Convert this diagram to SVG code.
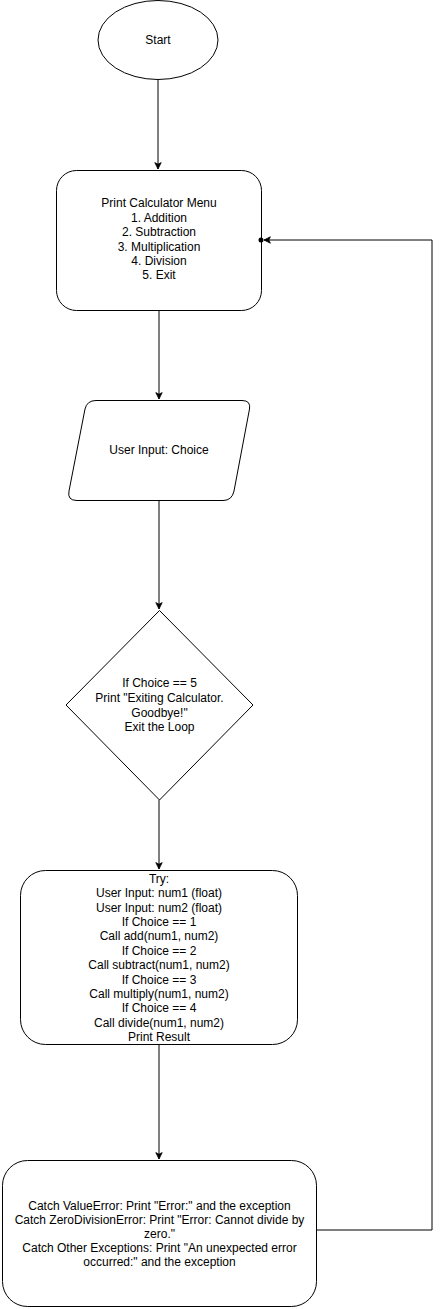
<svg xmlns="http://www.w3.org/2000/svg" width="442" height="1309" viewBox="0 0 442 1309">
<style>
.s{fill:#fff;stroke:#000;stroke-width:1}
.t{font-family:"Liberation Sans",Arial,sans-serif;font-size:12px;fill:#000;text-anchor:middle}
.c{fill:none;stroke:#000;stroke-width:1}
</style>
<defs>
<marker id="ah" viewBox="0 0 10 10" refX="9" refY="5" markerWidth="8" markerHeight="8" markerUnits="userSpaceOnUse" orient="auto">
<path d="M1,1 L9,5 L1,9 L3,5 Z" fill="#000" stroke="#000" stroke-width="1"/>
</marker>
</defs>
<rect width="442" height="1309" fill="#fff"/>
<g id="start">
<ellipse class="s" cx="158" cy="40" rx="60" ry="39.5"/>
<text class="t" x="158" y="44">Start</text>
</g>
<g id="menu">
<rect class="s" x="56.5" y="170.5" width="205" height="140" rx="20" ry="20"/>
<text class="t" x="159" y="207">Print Calculator Menu</text>
<text class="t" x="159" y="222">1. Addition</text>
<text class="t" x="159" y="236">2. Subtraction</text>
<text class="t" x="159" y="251">3. Multiplication</text>
<text class="t" x="159" y="265">4. Division</text>
<text class="t" x="159" y="279">5. Exit</text>
</g>
<g id="input">
<path class="s" d="M96,400.5 L242,400.5 Q251,400.5 249.5,409 L234,491 Q232,500.5 223,500.5 L77,500.5 Q67,500.5 69,491 L85,409 Q87,400.5 96,400.5 Z"/>
<text class="t" x="159" y="454">User Input: Choice</text>
</g>
<g id="decision">
<polygon class="s" points="159.5,610.5 253,705 159.5,800 66,705"/>
<text class="t" x="159.5" y="687">If Choice == 5</text>
<text class="t" x="159.5" y="702">Print "Exiting Calculator.</text>
<text class="t" x="159.5" y="717">Goodbye!"</text>
<text class="t" x="159.5" y="731">Exit the Loop</text>
</g>
<g id="try">
<rect class="s" x="20.5" y="870.5" width="277" height="174" rx="25" ry="25"/>
<text class="t" x="159" y="883">Try:</text>
<text class="t" x="159" y="897">User Input: num1 (float)</text>
<text class="t" x="159" y="912">User Input: num2 (float)</text>
<text class="t" x="159" y="926">If Choice == 1</text>
<text class="t" x="159" y="940">Call add(num1, num2)</text>
<text class="t" x="159" y="955">If Choice == 2</text>
<text class="t" x="159" y="969">Call subtract(num1, num2)</text>
<text class="t" x="159" y="984">If Choice == 3</text>
<text class="t" x="159" y="998">Call multiply(num1, num2)</text>
<text class="t" x="159" y="1012">If Choice == 4</text>
<text class="t" x="159" y="1027">Call divide(num1, num2)</text>
<text class="t" x="159" y="1041">Print Result</text>
</g>
<g id="catch">
<rect class="s" x="2.5" y="1160.5" width="314" height="146" rx="25" ry="25"/>
<text class="t" x="159.5" y="1210">Catch ValueError: Print "Error:" and the exception</text>
<text class="t" x="159.5" y="1224">Catch ZeroDivisionError: Print "Error: Cannot divide by</text>
<text class="t" x="159.5" y="1238">zero."</text>
<text class="t" x="159.5" y="1252">Catch Other Exceptions: Print "An unexpected error</text>
<text class="t" x="159.5" y="1266">occurred:" and the exception</text>
</g>
<g id="connectors">
<line class="c" x1="158" y1="80" x2="158" y2="169" marker-end="url(#ah)"/>
<line class="c" x1="159" y1="311" x2="159" y2="399" marker-end="url(#ah)"/>
<line class="c" x1="159" y1="500" x2="159" y2="609" marker-end="url(#ah)"/>
<line class="c" x1="159" y1="800" x2="159" y2="869" marker-end="url(#ah)"/>
<line class="c" x1="159" y1="1045" x2="159" y2="1159" marker-end="url(#ah)"/>
<polyline class="c" points="317,1230 432,1230 432,240 264,240" marker-end="url(#ah)"/>
<circle cx="261" cy="240" r="2.5" fill="#000"/>
</g>
</svg>
